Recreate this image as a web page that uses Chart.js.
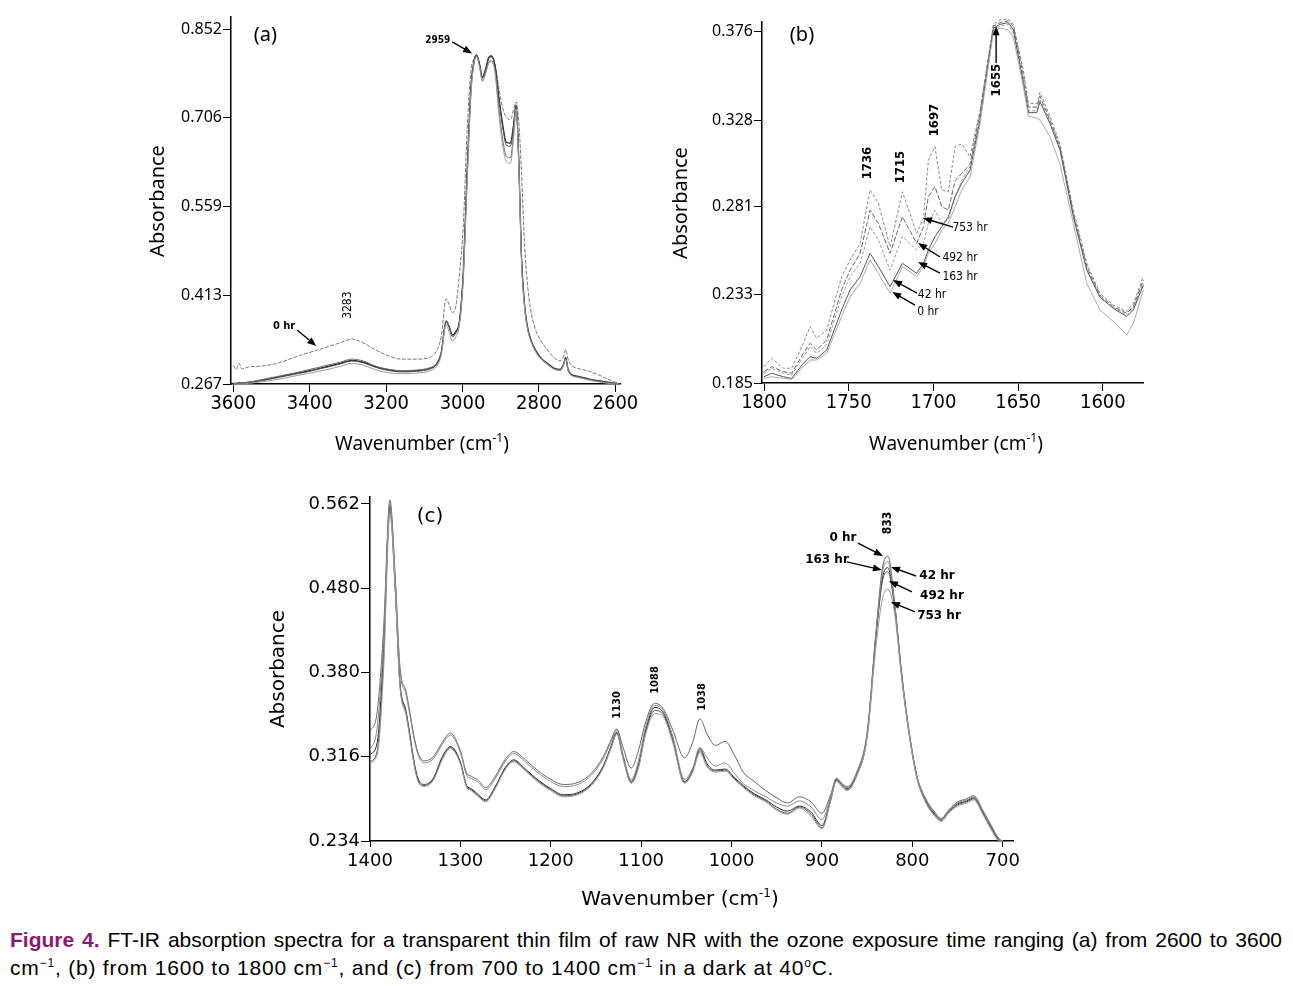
<!DOCTYPE html>
<html>
<head>
<meta charset="utf-8">
<script src="https://cdn.jsdelivr.net/npm/chart.js@4.4.1/dist/chart.umd.min.js"></script>
<style>
  body { margin: 0; background: #fff; width: 1293px; height: 986px; position: relative; overflow: hidden; }
  canvas { position: absolute; }
  #cap { position: absolute; left: 10px; top: 926px; width: 1272px; font-family: "Liberation Sans", Arial, sans-serif; font-size: 21px; line-height: 28px; color: #000; }
  #cap .l1 { text-align: justify; text-align-last: justify; white-space: nowrap; letter-spacing: 0; }
  #cap .l2 { letter-spacing: 0.8px; }
  #cap b { color: #8b1a6e; }
  #cap sup { font-size: 12px; line-height: 0; }
</style>
</head>
<body>
<canvas id="ca" width="520" height="470" style="left:120px;top:0px"></canvas>
<canvas id="cb" width="500" height="470" style="left:650px;top:0px"></canvas>
<canvas id="cc" width="780" height="430" style="left:250px;top:480px"></canvas>
<div id="cap">
  <div class="l1"><b>Figure 4.</b> FT-IR absorption spectra for a transparent thin film of raw NR with the ozone exposure time ranging (a) from 2600 to 3600</div>
  <div class="l2">cm<sup>&minus;1</sup>, (b) from 1600 to 1800 cm<sup>&minus;1</sup>, and (c) from 700 to 1400 cm<sup>&minus;1</sup> in a dark at 40<sup>o</sup>C.</div>
</div>
<script>
// ---- panel (a): 3600-2600 cm-1 ----
const A_WN = [3600, 3592, 3585, 3578, 3560, 3520, 3480, 3440, 3400, 3360,
  3320, 3290, 3260, 3230, 3200, 3160, 3120, 3085, 3068, 3056,
  3043, 3035, 3027, 3018, 3008, 2998, 2988, 2978, 2970, 2963,
  2956, 2948, 2940, 2932, 2925, 2915, 2905, 2895, 2885, 2875,
  2867, 2860, 2853, 2846, 2838, 2830, 2820, 2808, 2795, 2780,
  2760, 2745, 2736, 2730, 2724, 2715, 2700, 2680, 2660, 2640,
  2620, 2600, 2590];
const A_0HR = [0.298, 0.291, 0.301, 0.292, 0.295, 0.297, 0.302, 0.311, 0.319, 0.327,
  0.335, 0.341, 0.335, 0.324, 0.315, 0.308, 0.308, 0.311, 0.322, 0.345,
  0.407, 0.398, 0.385, 0.394, 0.450, 0.530, 0.686, 0.784, 0.803, 0.809,
  0.795, 0.767, 0.780, 0.803, 0.808, 0.795, 0.755, 0.722, 0.706, 0.703,
  0.718, 0.732, 0.700, 0.620, 0.500, 0.430, 0.383, 0.355, 0.338, 0.325,
  0.310, 0.305, 0.312, 0.324, 0.308, 0.298, 0.293, 0.290, 0.286, 0.281,
  0.275, 0.270, 0.268];
const A_42HR = [0.268, 0.268, 0.269, 0.269, 0.270, 0.274, 0.279, 0.284, 0.289, 0.295,
  0.301, 0.306, 0.303, 0.296, 0.291, 0.288, 0.289, 0.293, 0.300, 0.318,
  0.370, 0.362, 0.348, 0.353, 0.372, 0.455, 0.620, 0.757, 0.800, 0.809,
  0.796, 0.773, 0.786, 0.805, 0.808, 0.792, 0.740, 0.695, 0.665, 0.664,
  0.692, 0.727, 0.640, 0.482, 0.400, 0.361, 0.338, 0.322, 0.310, 0.302,
  0.293, 0.291, 0.299, 0.311, 0.292, 0.283, 0.280, 0.277, 0.274, 0.272,
  0.270, 0.268, 0.267];
const A_163HR = [0.267, 0.267, 0.268, 0.268, 0.269, 0.273, 0.278, 0.283, 0.288, 0.294,
  0.300, 0.305, 0.302, 0.295, 0.290, 0.287, 0.288, 0.292, 0.299, 0.317,
  0.369, 0.360, 0.346, 0.351, 0.370, 0.450, 0.612, 0.752, 0.798, 0.808,
  0.795, 0.772, 0.784, 0.803, 0.806, 0.790, 0.736, 0.690, 0.660, 0.659,
  0.688, 0.725, 0.635, 0.478, 0.398, 0.360, 0.337, 0.321, 0.309, 0.301,
  0.292, 0.290, 0.298, 0.310, 0.291, 0.282, 0.279, 0.276, 0.273, 0.271,
  0.269, 0.267, 0.267];
const A_492HR = [0.268, 0.268, 0.269, 0.269, 0.270, 0.275, 0.280, 0.285, 0.291, 0.297,
  0.303, 0.308, 0.305, 0.297, 0.292, 0.289, 0.290, 0.294, 0.301, 0.320,
  0.372, 0.362, 0.345, 0.350, 0.368, 0.445, 0.605, 0.748, 0.796, 0.808,
  0.793, 0.770, 0.780, 0.797, 0.800, 0.783, 0.720, 0.670, 0.642, 0.640,
  0.675, 0.722, 0.630, 0.475, 0.396, 0.359, 0.336, 0.320, 0.309, 0.301,
  0.292, 0.290, 0.298, 0.309, 0.290, 0.282, 0.279, 0.276, 0.273, 0.271,
  0.269, 0.268, 0.267];
const A_753HR = [0.267, 0.267, 0.267, 0.267, 0.268, 0.271, 0.275, 0.280, 0.285, 0.290,
  0.296, 0.301, 0.298, 0.291, 0.286, 0.284, 0.285, 0.289, 0.296, 0.314,
  0.365, 0.352, 0.338, 0.344, 0.365, 0.440, 0.600, 0.745, 0.795, 0.806,
  0.790, 0.766, 0.778, 0.795, 0.798, 0.780, 0.712, 0.660, 0.633, 0.631,
  0.668, 0.720, 0.628, 0.472, 0.394, 0.357, 0.335, 0.319, 0.308, 0.300,
  0.291, 0.289, 0.297, 0.308, 0.289, 0.281, 0.278, 0.275, 0.272, 0.270,
  0.268, 0.267, 0.267];
const A_X_TICKS = [3600, 3400, 3200, 3000, 2800, 2600];
const A_Y_TICKS = [0.267, 0.413, 0.559, 0.706, 0.852];

// ---- panel (b): 1800-1576 cm-1 ----
const B_WN = [1800, 1795.5, 1788.6, 1783.7, 1776.8, 1772.8, 1768.9, 1763, 1754.2, 1749.2,
  1743.3, 1737.4, 1732.5, 1725.6, 1718.3, 1709.9, 1705.9, 1703, 1699.1, 1695.1,
  1691.2, 1687.2, 1683.3, 1678.4, 1672.5, 1664.6, 1660.7, 1655.8, 1652.8, 1646.9,
  1643.9, 1639, 1637.1, 1631.2, 1625.3, 1617.4, 1609.5, 1601.7, 1593.8, 1585.9,
  1582, 1576.1];
const B_753HR = [0.1939, 0.1984, 0.193, 0.193, 0.2066, 0.2156, 0.2093, 0.2138, 0.2428, 0.2519,
  0.2609, 0.290, 0.2827, 0.2591, 0.289, 0.2664, 0.2745, 0.306, 0.3135, 0.290,
  0.289, 0.3135, 0.315, 0.308, 0.333, 0.380, 0.3824, 0.383, 0.380, 0.355,
  0.337, 0.337, 0.343, 0.330, 0.315, 0.279, 0.2501, 0.2338, 0.2274, 0.2238,
  0.2283, 0.2428];
const B_492HR = [0.1912, 0.1939, 0.1912, 0.1903, 0.2011, 0.2066, 0.2029, 0.2084, 0.2356, 0.2464,
  0.2555, 0.279, 0.2718, 0.2555, 0.2754, 0.2609, 0.270, 0.2863, 0.2918, 0.2809,
  0.279, 0.295, 0.299, 0.304, 0.332, 0.379, 0.381, 0.382, 0.379, 0.352,
  0.335, 0.335, 0.341, 0.328, 0.3135, 0.2772, 0.2483, 0.2328, 0.2265, 0.2229,
  0.2265, 0.241];
const B_163HR = [0.1903, 0.193, 0.1903, 0.1893, 0.1993, 0.2048, 0.2011, 0.2057, 0.2319, 0.2428,
  0.2501, 0.270, 0.2628, 0.2464, 0.2646, 0.2573, 0.2609, 0.2718, 0.279, 0.2718,
  0.2736, 0.2863, 0.295, 0.3026, 0.330, 0.377, 0.379, 0.380, 0.375, 0.350,
  0.333, 0.333, 0.339, 0.327, 0.3126, 0.2763, 0.2473, 0.2319, 0.2261, 0.222,
  0.2256, 0.2392];
const B_42HR = [0.1884, 0.1903, 0.1884, 0.1875, 0.1957, 0.1993, 0.1984, 0.2029, 0.2247, 0.2356,
  0.2428, 0.2555, 0.2483, 0.2374, 0.2501, 0.2446, 0.2501, 0.2573, 0.2646, 0.270,
  0.2754, 0.2863, 0.2936, 0.3008, 0.328, 0.378, 0.380, 0.381, 0.377, 0.348,
  0.332, 0.332, 0.338, 0.326, 0.3117, 0.2754, 0.2464, 0.2316, 0.2256, 0.2211,
  0.2247, 0.2383];
const B_0HR = [0.1875, 0.1884, 0.1875, 0.187, 0.1939, 0.1975, 0.1975, 0.2011, 0.2211, 0.2319,
  0.2392, 0.2519, 0.2446, 0.2338, 0.2483, 0.2428, 0.2483, 0.2555, 0.2609, 0.2682,
  0.2718, 0.2809, 0.290, 0.297, 0.326, 0.376, 0.378, 0.377, 0.373, 0.346,
  0.330, 0.329, 0.328, 0.319, 0.304, 0.2718, 0.2392, 0.2247, 0.2184, 0.2111,
  0.2174, 0.2356];
const B_X_TICKS = [1800, 1750, 1700, 1650, 1600];
const B_Y_TICKS = [0.185, 0.233, 0.281, 0.328, 0.376];

// ---- panel (c): 1400-700 cm-1 ----
const C_WN = [1400, 1392, 1385, 1378, 1372, 1367, 1360, 1348, 1340, 1330,
  1320, 1311, 1300, 1293, 1288, 1280, 1272, 1262, 1250, 1241,
  1228, 1215, 1200, 1186, 1170, 1155, 1142, 1133, 1127, 1120,
  1111, 1103, 1095, 1085, 1075, 1065, 1052, 1043, 1035, 1027,
  1018, 1007, 997, 987, 975, 962, 950, 938, 925, 912,
  900, 890, 884, 878, 872, 862, 850, 840, 833, 827,
  820, 812, 805, 795, 785, 775, 768, 760, 750, 740,
  732, 722, 712, 704, 700];
const C_0HR = [0.340, 0.360, 0.440, 0.566, 0.490, 0.405, 0.379, 0.323, 0.312, 0.316,
  0.330, 0.339, 0.322, 0.300, 0.297, 0.293, 0.286, 0.296, 0.314, 0.321,
  0.313, 0.303, 0.294, 0.289, 0.291, 0.300, 0.316, 0.333, 0.343, 0.325,
  0.305, 0.322, 0.350, 0.368, 0.362, 0.342, 0.315, 0.330, 0.353, 0.338,
  0.327, 0.331, 0.318, 0.301, 0.292, 0.283, 0.276, 0.271, 0.277, 0.272,
  0.261, 0.280, 0.295, 0.290, 0.287, 0.300, 0.340, 0.440, 0.500, 0.511,
  0.470, 0.400, 0.350, 0.298, 0.275, 0.262, 0.256, 0.264, 0.272, 0.275,
  0.278, 0.264, 0.248, 0.236, 0.234];
const C_42HR = [0.322, 0.345, 0.430, 0.562, 0.487, 0.402, 0.376, 0.321, 0.310, 0.314,
  0.328, 0.337, 0.320, 0.298, 0.295, 0.291, 0.284, 0.294, 0.312, 0.319,
  0.311, 0.301, 0.292, 0.287, 0.289, 0.298, 0.314, 0.331, 0.342, 0.318,
  0.294, 0.312, 0.345, 0.366, 0.360, 0.336, 0.294, 0.305, 0.325, 0.315,
  0.307, 0.310, 0.300, 0.290, 0.283, 0.277, 0.271, 0.268, 0.273, 0.267,
  0.255, 0.278, 0.295, 0.290, 0.286, 0.299, 0.338, 0.438, 0.496, 0.506,
  0.468, 0.398, 0.349, 0.297, 0.274, 0.261, 0.255, 0.263, 0.271, 0.274,
  0.277, 0.263, 0.247, 0.236, 0.234];
const C_163HR = [0.318, 0.330, 0.420, 0.560, 0.480, 0.390, 0.360, 0.298, 0.289, 0.295,
  0.316, 0.326, 0.311, 0.288, 0.285, 0.279, 0.274, 0.286, 0.306, 0.313,
  0.304, 0.294, 0.285, 0.279, 0.281, 0.290, 0.307, 0.327, 0.340, 0.316,
  0.292, 0.308, 0.342, 0.364, 0.358, 0.333, 0.292, 0.303, 0.324, 0.309,
  0.303, 0.304, 0.296, 0.288, 0.280, 0.274, 0.267, 0.263, 0.268, 0.262,
  0.249, 0.276, 0.294, 0.289, 0.285, 0.298, 0.337, 0.436, 0.490, 0.500,
  0.466, 0.397, 0.348, 0.297, 0.273, 0.260, 0.255, 0.263, 0.270, 0.273,
  0.276, 0.262, 0.246, 0.235, 0.234];
const C_492HR = [0.311, 0.322, 0.410, 0.558, 0.478, 0.388, 0.358, 0.296, 0.288, 0.294,
  0.315, 0.325, 0.310, 0.287, 0.284, 0.278, 0.273, 0.285, 0.305, 0.312,
  0.303, 0.293, 0.284, 0.278, 0.280, 0.289, 0.306, 0.326, 0.339, 0.315,
  0.291, 0.306, 0.340, 0.361, 0.356, 0.331, 0.291, 0.302, 0.322, 0.307,
  0.302, 0.303, 0.295, 0.287, 0.279, 0.273, 0.265, 0.261, 0.267, 0.260,
  0.247, 0.275, 0.293, 0.288, 0.284, 0.297, 0.336, 0.434, 0.487, 0.496,
  0.464, 0.396, 0.347, 0.296, 0.272, 0.259, 0.254, 0.262, 0.269, 0.272,
  0.275, 0.261, 0.245, 0.235, 0.234];
const C_753HR = [0.310, 0.318, 0.400, 0.552, 0.476, 0.386, 0.356, 0.295, 0.287, 0.293,
  0.313, 0.324, 0.309, 0.286, 0.283, 0.277, 0.272, 0.284, 0.304, 0.311,
  0.302, 0.292, 0.283, 0.277, 0.279, 0.288, 0.305, 0.325, 0.338, 0.314,
  0.290, 0.305, 0.338, 0.358, 0.354, 0.330, 0.290, 0.301, 0.320, 0.306,
  0.301, 0.302, 0.294, 0.286, 0.278, 0.272, 0.264, 0.260, 0.266, 0.258,
  0.246, 0.274, 0.292, 0.287, 0.283, 0.296, 0.334, 0.425, 0.470, 0.479,
  0.458, 0.394, 0.346, 0.295, 0.271, 0.258, 0.253, 0.261, 0.268, 0.271,
  0.274, 0.260, 0.244, 0.234, 0.234];
const C_X_TICKS = [1400, 1300, 1200, 1100, 1000, 900, 800, 700];
const C_Y_TICKS = [0.234, 0.316, 0.398, 0.480, 0.562];
const C_Y_LABELS = ['0.234', '0.316', '0.380', '0.480', '0.562'];

const COND = '"DejaVu Sans Condensed", "Liberation Sans Narrow", sans-serif';
const NARROW = '"Liberation Sans Narrow", "DejaVu Sans Condensed", sans-serif';

// draws labels, arrows and axis titles
const annotPlugin = {
  id: 'annot',
  afterDraw(chart, args, opts) {
    const ctx = chart.ctx;
    const xs = chart.scales.x, ys = chart.scales.y;
    ctx.save();
    ctx.fillStyle = '#000';
    ctx.strokeStyle = '#000';
    (opts.arrows || []).forEach(a => {
      const x1 = xs.getPixelForValue(a[0]), y1 = ys.getPixelForValue(a[1]);
      const x2 = xs.getPixelForValue(a[2]), y2 = ys.getPixelForValue(a[3]);
      const ang = Math.atan2(y2 - y1, x2 - x1);
      ctx.lineWidth = 1.4;
      ctx.beginPath();
      ctx.moveTo(x1, y1);
      ctx.lineTo(x2 - 5 * Math.cos(ang), y2 - 5 * Math.sin(ang));
      ctx.stroke();
      ctx.beginPath();
      ctx.moveTo(x2, y2);
      ctx.lineTo(x2 - 9 * Math.cos(ang) + 3.5 * Math.sin(ang), y2 - 9 * Math.sin(ang) - 3.5 * Math.cos(ang));
      ctx.lineTo(x2 - 9 * Math.cos(ang) - 3.5 * Math.sin(ang), y2 - 9 * Math.sin(ang) + 3.5 * Math.cos(ang));
      ctx.closePath();
      ctx.fill();
    });
    ctx.textAlign = 'center';
    ctx.textBaseline = 'middle';
    (opts.labels || []).forEach(l => {
      ctx.font = l.font;
      ctx.save();
      ctx.translate(xs.getPixelForValue(l.x), ys.getPixelForValue(l.y));
      if (l.rot) ctx.rotate(l.rot * Math.PI / 180);
      ctx.fillText(l.t, 0, 0);
      ctx.restore();
    });
    (opts.titles || []).forEach(t => {
      ctx.save();
      ctx.translate(t.px, t.py);
      if (t.rot) ctx.rotate(t.rot * Math.PI / 180);
      ctx.textAlign = 'left';
      ctx.textBaseline = 'alphabetic';
      const big = t.size + 'px ' + t.family, small = Math.round(t.size * 0.62) + 'px ' + t.family;
      const parts = t.sup ? [[t.t, big, 0], [t.sup, small, -t.size * 0.42], [')', big, 0]] : [[t.t, big, 0]];
      let w = 0;
      parts.forEach(p => { ctx.font = p[1]; w += ctx.measureText(p[0]).width; });
      let x = -w / 2;
      const base = t.size * 0.36;
      parts.forEach(p => {
        ctx.font = p[1];
        ctx.fillText(p[0], x, base + p[2]);
        x += ctx.measureText(p[0]).width;
      });
      ctx.restore();
    });
    ctx.restore();
  }
};

function series(wn, vals, color, width, dash) {
  return {
    data: wn.map((x, i) => ({ x: x, y: vals[i] })),
    borderColor: color,
    borderWidth: width,
    borderDash: dash || [],
    pointRadius: 0,
    clip: false
  };
}

function axes(o) {
  return {
    x: {
      type: 'linear', reverse: true, min: o.xMin, max: o.xMax,
      afterFit: s => { s.height = o.xH; },
      afterBuildTicks: s => { s.ticks = o.xTicks.map(v => ({ value: v })); },
      ticks: { font: { family: o.xFamily, size: o.xSize }, color: '#000', padding: o.xPad, maxRotation: 0, autoSkip: false, callback: v => String(v) },
      grid: { drawOnChartArea: false, tickLength: o.xTick, color: '#000', lineWidth: 1 },
      border: { color: '#000', width: 1.5 }
    },
    y: {
      type: 'linear', min: o.yMin, max: o.yMax,
      afterFit: s => { s.width = o.yW; },
      afterBuildTicks: s => { s.ticks = o.yTicks.map(v => ({ value: v })); },
      ticks: { font: { family: o.yFamily, size: o.ySize }, color: '#000', padding: 1, autoSkip: false, callback: o.yLabel },
      grid: { drawOnChartArea: false, tickLength: o.yTick, color: '#000', lineWidth: 1 },
      border: { color: '#000', width: 1.5 }
    }
  };
}

Chart.defaults.animation = false;

new Chart(document.getElementById('ca'), {
  type: 'line',
  data: {
    datasets: [
      series(A_WN, A_753HR, '#9a9a9a', 1),
      series(A_WN, A_492HR, '#6a6a6a', 1),
      series(A_WN, A_163HR, '#4a4a4a', 1),
      series(A_WN, A_42HR, '#222', 1.2),
      series(A_WN, A_0HR, '#777', 1, [4, 1.5])
    ].map(d => Object.assign(d, { cubicInterpolationMode: 'monotone' }))
  },
  options: {
    responsive: false, devicePixelRatio: 1, events: [],
    layout: { padding: { top: 17, right: 20, left: 0, bottom: 0 } },
    scales: axes({ xFamily: NARROW, xSize: 20, xTick: 8, xPad: 0, yFamily: '"Noto Sans", sans-serif', ySize: 16,
      xMin: 2588, xMax: 3606, xH: 86, xTicks: A_X_TICKS,
      yMin: 0.267, yMax: 0.872, yW: 111, yTicks: A_Y_TICKS, yTick: 8, yLabel: v => v.toFixed(3) }),
    plugins: {
      legend: { display: false }, tooltip: { enabled: false },
      annot: {
        labels: [
          { t: '(a)', x: 3516, y: 0.842, font: '20px "Noto Sans", sans-serif' },
          { t: '2959', x: 3065, y: 0.834, font: 'bold 10px ' + COND },
          { t: '0 hr', x: 3467, y: 0.3626, font: 'bold 11px ' + COND },
          { t: '3283', x: 3299, y: 0.397, rot: -90, font: '12px ' + COND }
        ],
        arrows: [[3027, 0.831, 2975, 0.812], [3433, 0.356, 3383, 0.3296]],
        titles: [
          { t: 'Absorbance', px: 37, py: 201, rot: -90, size: 20, family: '"Noto Sans", sans-serif' },
          { t: 'Wavenumber (cm', sup: '-1', px: 302, py: 443, size: 19, family: '"Noto Sans", sans-serif' }
        ]
      }
    }
  },
  plugins: [annotPlugin]
});

new Chart(document.getElementById('cb'), {
  type: 'line',
  data: {
    datasets: [
      series(B_WN, B_0HR, '#aaa', 1),
      series(B_WN, B_42HR, '#555', 1),
      series(B_WN, B_163HR, '#999', 1, [3, 2]),
      series(B_WN, B_492HR, '#666', 1, [5, 2]),
      series(B_WN, B_753HR, '#888', 1, [3, 2])
    ].map(d => Object.assign(d, { tension: 0 }))
  },
  options: {
    responsive: false, devicePixelRatio: 1, events: [],
    layout: { padding: { top: 22, right: 7, left: 0, bottom: 0 } },
    scales: axes({ xFamily: NARROW, xSize: 20, xTick: 8, xPad: 0, yFamily: '"Noto Sans", sans-serif', ySize: 16,
      xMin: 1576.3, xMax: 1801.2, xH: 87, xTicks: B_X_TICKS,
      yMin: 0.185, yMax: 0.3813, yW: 112, yTicks: B_Y_TICKS, yTick: 8, yLabel: v => v.toFixed(3) }),
    plugins: {
      legend: { display: false }, tooltip: { enabled: false },
      annot: {
        labels: [
          { t: '(b)', x: 1777.6, y: 0.374, font: '20px "Noto Sans", sans-serif' },
          { t: '1736', x: 1738.6, y: 0.3046, rot: -90, font: 'bold 13px ' + COND },
          { t: '1715', x: 1719.1, y: 0.3024, rot: -90, font: 'bold 13px ' + COND },
          { t: '1697', x: 1699.1, y: 0.328, rot: -90, font: 'bold 13px ' + COND },
          { t: '1655', x: 1662.8, y: 0.3497, rot: -90, font: 'bold 13px ' + COND },
          { t: '753 hr', x: 1678.4, y: 0.2693, font: '12px ' + COND },
          { t: '492 hr', x: 1684.3, y: 0.253, font: '12px ' + COND },
          { t: '163 hr', x: 1684.3, y: 0.2426, font: '12px ' + COND },
          { t: '42 hr', x: 1700.8, y: 0.2328, font: '12px ' + COND },
          { t: '0 hr', x: 1703.2, y: 0.2236, font: '12px ' + COND }
        ],
        arrows: [
          [1663, 0.359, 1663, 0.379],
          [1688.4, 0.2698, 1706.1, 0.2747],
          [1696.1, 0.2535, 1709.1, 0.2611],
          [1696.1, 0.2448, 1709.1, 0.2508],
          [1709.7, 0.2339, 1723.9, 0.241],
          [1710.9, 0.2274, 1724.4, 0.2345]
        ],
        titles: [
          { t: 'Absorbance', px: 30, py: 203, rot: -90, size: 20, family: '"Noto Sans", sans-serif' },
          { t: 'Wavenumber (cm', sup: '-1', px: 306, py: 443, size: 19, family: '"Noto Sans", sans-serif' }
        ]
      }
    }
  },
  plugins: [annotPlugin]
});

new Chart(document.getElementById('cc'), {
  type: 'line',
  data: {
    datasets: [
      series(C_WN, C_753HR, '#999', 1),
      series(C_WN, C_42HR, '#888', 1),
      series(C_WN, C_0HR, '#666', 1),
      series(C_WN, C_492HR, '#555', 1),
      series(C_WN, C_163HR, '#2a2a2a', 1)
    ].map(d => Object.assign(d, { cubicInterpolationMode: 'monotone' }))
  },
  options: {
    responsive: false, devicePixelRatio: 1, events: [],
    layout: { padding: { top: 17, right: 17, left: 0, bottom: 0 } },
    scales: axes({ xFamily: '"DejaVu Sans", sans-serif', xSize: 18, xTick: 6, xPad: 4,
      yFamily: '"DejaVu Sans", sans-serif', ySize: 18,
      xMin: 688.6, xMax: 1400, xH: 69, xTicks: C_X_TICKS,
      yMin: 0.234, yMax: 0.5688, yW: 120, yTicks: C_Y_TICKS, yTick: 9,
      yLabel: (v, i) => C_Y_LABELS[i] }),
    plugins: {
      legend: { display: false }, tooltip: { enabled: false },
      annot: {
        labels: [
          { t: '(c)', x: 1333.6, y: 0.5494, font: '20px "DejaVu Sans", sans-serif' },
          { t: '1130', x: 1126.7, y: 0.3664, rot: -90, font: 'bold 11px ' + COND },
          { t: '1088', x: 1084.7, y: 0.3907, rot: -90, font: 'bold 11px ' + COND },
          { t: '1038', x: 1032.7, y: 0.3742, rot: -90, font: 'bold 11px ' + COND },
          { t: '833', x: 826.9, y: 0.5435, rot: -90, font: 'bold 12px ' + COND },
          { t: '0 hr', x: 876.7, y: 0.5289, font: 'bold 12px "DejaVu Sans", sans-serif' },
          { t: '163 hr', x: 894.4, y: 0.5075, font: 'bold 12px "DejaVu Sans", sans-serif' },
          { t: '42 hr', x: 772.7, y: 0.4919, font: 'bold 12px "DejaVu Sans", sans-serif' },
          { t: '492 hr', x: 767.2, y: 0.4725, font: 'bold 12px "DejaVu Sans", sans-serif' },
          { t: '753 hr', x: 770.5, y: 0.453, font: 'bold 12px "DejaVu Sans", sans-serif' }
        ],
        arrows: [
          [860.1, 0.524, 832.5, 0.5114],
          [872.3, 0.5056, 833.6, 0.4978],
          [795.9, 0.4919, 823.6, 0.5007],
          [800.4, 0.4764, 825.8, 0.4871],
          [797.1, 0.4569, 823.6, 0.4666]
        ],
        titles: [
          { t: 'Absorbance', px: 27, py: 189, rot: -90, size: 20, family: '"DejaVu Sans", sans-serif' },
          { t: 'Wavenumber (cm', sup: '-1', px: 430, py: 418, size: 20, family: '"DejaVu Sans", sans-serif' }
        ]
      }
    }
  },
  plugins: [annotPlugin]
});
</script>
</body>
</html>
